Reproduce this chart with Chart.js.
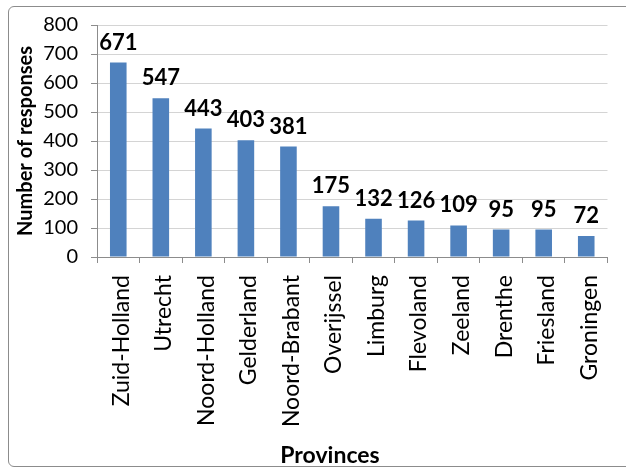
<!DOCTYPE html>
<html>
<head>
<meta charset="utf-8">
<script src="https://cdn.jsdelivr.net/npm/chart.js@4.4.1/dist/chart.umd.min.js"></script>
<style>
  html, body { margin: 0; padding: 0; background: #fff; }
  #wrap { position: relative; width: 626px; height: 473px; overflow: hidden; }
  #frame {
    position: absolute; left: 8px; top: 6px; width: 640px; height: 461px;
    border: 1px solid #8c8c8c; border-radius: 6px; box-sizing: border-box;
  }
  canvas { position: absolute; left: 0; top: 0; }
</style>
</head>
<body>
<div id="wrap">
  <div id="frame"></div>
  <canvas id="chart" width="626" height="473"></canvas>
</div>
<script>
// ---- data ----
const provinces = ['Zuid-Holland', 'Utrecht', 'Noord-Holland', 'Gelderland', 'Noord-Brabant',
  'Overijssel', 'Limburg', 'Flevoland', 'Zeeland', 'Drenthe', 'Friesland', 'Groningen'];
const responses = [671, 547, 443, 403, 381, 175, 132, 126, 109, 95, 95, 72];
const yTicks = [0, 100, 200, 300, 400, 500, 600, 700, 800];
const xTitle = 'Provinces';

const FONT = 'Lato, "Open Sans", sans-serif';

// value labels above each bar + x axis title (Excel puts it a bit left of centre)
const valueLabels = {
  id: 'valueLabels',
  afterDatasetsDraw(chart) {
    const ctx = chart.ctx;
    const meta = chart.getDatasetMeta(0);
    ctx.save();
    ctx.font = 'bold 22px ' + FONT;
    ctx.fillStyle = '#000';
    ctx.textAlign = 'center';
    ctx.textBaseline = 'bottom';
    meta.data.forEach((bar, i) => {
      ctx.fillText(String(responses[i]), bar.x, bar.y - 9);
    });
    ctx.font = 'bold 23px ' + FONT;
    ctx.textBaseline = 'middle';
    ctx.fillText(xTitle, 330, 456);
    ctx.restore();
  }
};

new Chart(document.getElementById('chart').getContext('2d'), {
  type: 'bar',
  data: {
    labels: provinces,
    datasets: [{
      data: responses,
      backgroundColor: '#4f81bd',
      borderWidth: 0,
      barPercentage: 0.39,
      categoryPercentage: 1
    }]
  },
  options: {
    responsive: false,
    animation: false,
    devicePixelRatio: 1,
    layout: { padding: { top: 25, right: 4, left: 14, bottom: 0 } },
    plugins: {
      legend: { display: false },
      tooltip: { enabled: false }
    },
    scales: {
      y: {
        min: 0,
        max: 800,
        afterBuildTicks(scale) { scale.ticks = yTicks.map(v => ({ value: v })); },
        afterFit(scale) { scale.width = 83; },
        ticks: { font: { family: FONT, size: 20 }, color: '#000', padding: 13 },
        grid: { color: '#d4d4d4', tickLength: 6, tickColor: '#8c8c8c' },
        border: { color: '#8c8c8c' },
        title: {
          display: true,
          text: 'Number of responses',
          font: { family: FONT, size: 20, weight: 'bold' },
          color: '#000',
          padding: { top: 0, bottom: 2 }
        }
      },
      x: {
        afterFit(scale) { scale.height = 216; },
        ticks: {
          font: { family: FONT, size: 23 },
          color: '#000',
          minRotation: 90,
          maxRotation: 90,
          autoSkip: false,
          padding: 12,
          labelOffset: 3
        },
        grid: { drawOnChartArea: false, tickLength: 6, color: '#8c8c8c', offset: true },
        border: { color: '#8c8c8c' }
      }
    }
  },
  plugins: [valueLabels]
});
</script>
</body>
</html>
